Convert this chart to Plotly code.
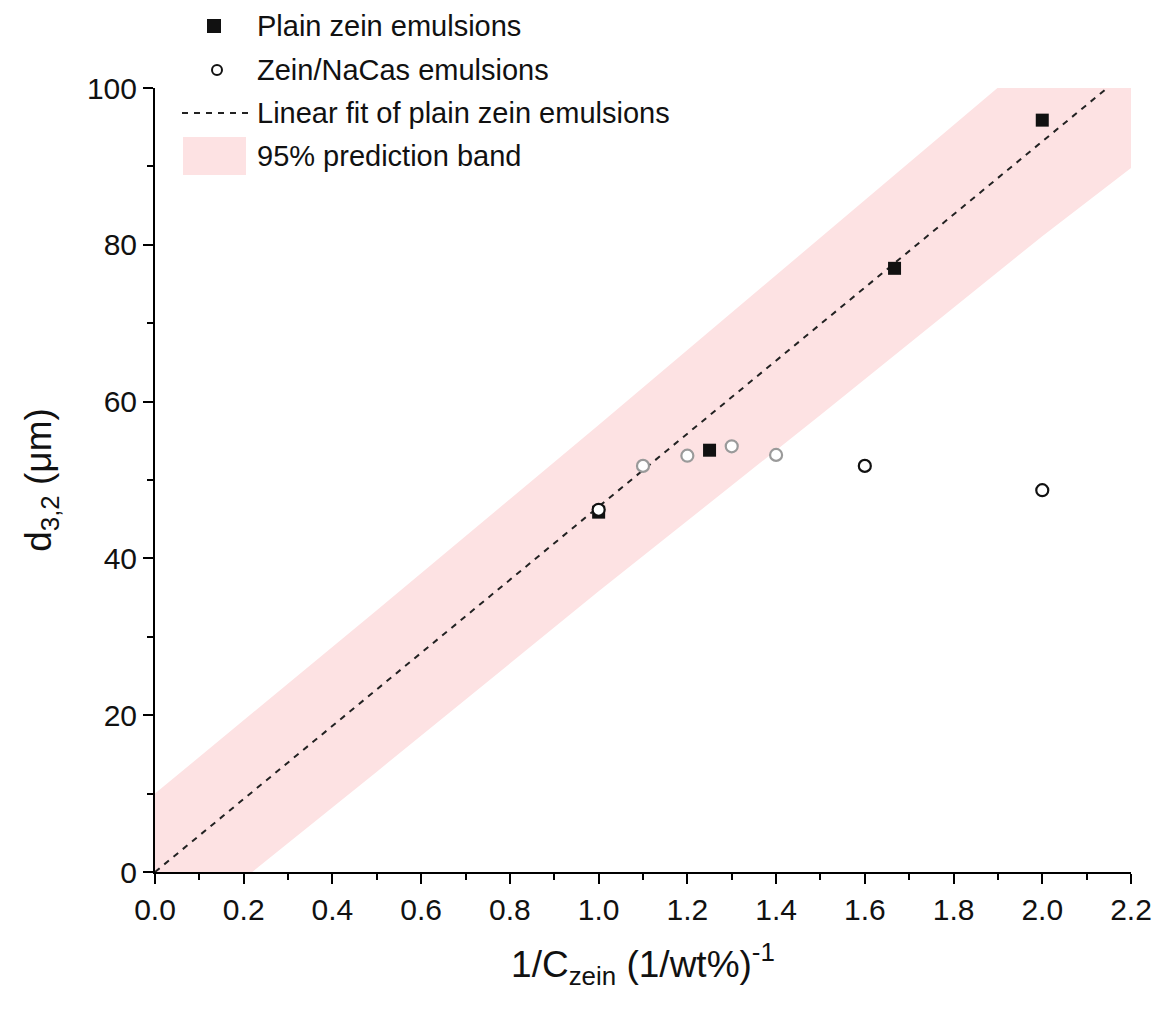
import plotly.graph_objects as go

# Data
plain_x = [1.0, 1.25, 1.667, 2.0]
plain_y = [45.9, 53.8, 77.0, 95.9]

nacas_x = [1.0, 1.1, 1.2, 1.3, 1.4, 1.6, 2.0]
nacas_y = [46.2, 51.8, 53.1, 54.3, 53.2, 51.8, 48.7]
nacas_edge = ["#111111", "#9a9a9a", "#9a9a9a", "#9a9a9a", "#9a9a9a", "#111111", "#111111"]

fit_x = [0.0, 2.2]
fit_y = [0.0, 102.5]

band_x = [0.0, 0.5, 1.0, 1.5, 2.0, 2.2]
band_upper = [10.0, 33.4, 57.0, 80.9, 104.7, 114.4]
band_lower = [-10.0, 12.8, 35.8, 58.3, 81.1, 89.8]

legend_labels = ["Plain zein emulsions", "Zein/NaCas emulsions",
                 "Linear fit of plain zein emulsions", "95% prediction band"]

FONT = "Arial, Liberation Sans, Helvetica, sans-serif"
BAND = "rgb(253,226,227)"
W, H = 1163, 1010
ML, MR, MT, MB = 155, 32, 88, 138
PW, PH = W - ML - MR, H - MT - MB

fig = go.Figure()

# prediction band as a closed polygon (upper edge forward, lower edge back)
poly_x = band_x + band_x[::-1]
poly_y = band_upper + band_lower[::-1]
fig.add_trace(go.Scatter(x=poly_x, y=poly_y, mode="lines",
                         line=dict(width=0, color=BAND), fill="toself",
                         fillcolor=BAND, name=legend_labels[3],
                         hoverinfo="skip", showlegend=False))
fig.add_trace(go.Scatter(x=fit_x, y=fit_y, mode="lines",
                         line=dict(color="#222222", width=2, dash="6px,6px"),
                         name=legend_labels[2], showlegend=False))
fig.add_trace(go.Scatter(x=plain_x, y=plain_y, mode="markers",
                         marker=dict(symbol="square", size=13, color="#111111",
                                     line=dict(width=0)),
                         name=legend_labels[0], showlegend=False))
fig.add_trace(go.Scatter(x=nacas_x, y=nacas_y, mode="markers",
                         marker=dict(symbol="circle", size=12, color="white",
                                     line=dict(width=2.2, color=nacas_edge)),
                         name=legend_labels[1], showlegend=False))


# ---- legend drawn in paper space (pixel helpers) ----
def px(x):
    return (x - ML) / PW


def py(y):
    return (H - MB - y) / PH


row_y = [26, 70, 113, 156]
text_x = 255
shapes = [
    dict(type="rect", xref="paper", yref="paper",
         x0=px(207), x1=px(221), y0=py(row_y[0] + 7), y1=py(row_y[0] - 7),
         fillcolor="#111111", line=dict(width=0)),
    dict(type="circle", xref="paper", yref="paper",
         x0=px(212), x1=px(222), y0=py(row_y[1] + 5), y1=py(row_y[1] - 5),
         fillcolor="white", line=dict(width=2, color="#111111")),
    dict(type="line", xref="paper", yref="paper",
         x0=px(182), x1=px(252), y0=py(row_y[2]), y1=py(row_y[2]),
         line=dict(width=2, color="#222222", dash="6px,6px")),
    dict(type="rect", xref="paper", yref="paper",
         x0=px(183), x1=px(246), y0=py(row_y[3] + 19), y1=py(row_y[3] - 19),
         fillcolor=BAND, line=dict(width=0), layer="below"),
]
annotations = [
    dict(xref="paper", yref="paper", x=px(text_x), y=py(yy), text=lab,
         showarrow=False, xanchor="left", yanchor="middle",
         font=dict(family=FONT, size=29, color="#111111"))
    for lab, yy in zip(legend_labels, row_y)
]

axis_common = dict(
    showline=True, linecolor="black", linewidth=2,
    ticks="outside", ticklen=10, tickwidth=2, tickcolor="black",
    showgrid=False, zeroline=False, mirror=False,
    tickfont=dict(family=FONT, size=30, color="#111111"),
)

fig.update_xaxes(range=[0, 2.2], dtick=0.2, tick0=0, tickformat=".1f",
                 minor=dict(dtick=0.1, ticks="outside", ticklen=6, tickwidth=2,
                            tickcolor="black"),
                 title=dict(text="1/C<sub>zein</sub> (1/wt%)<sup>-1</sup>",
                            font=dict(family=FONT, size=37, color="#111111"),
                            standoff=26),
                 **axis_common)
fig.update_yaxes(range=[0, 100], dtick=20, tick0=0,
                 minor=dict(dtick=10, ticks="outside", ticklen=6, tickwidth=2,
                            tickcolor="black"),
                 title=dict(text="d<sub>3,2</sub> (μm)",
                            font=dict(family=FONT, size=37, color="#111111"),
                            standoff=24),
                 **axis_common)

fig.update_layout(
    width=W, height=H,
    margin=dict(l=ML, r=MR, t=MT, b=MB, autoexpand=False),
    plot_bgcolor="white", paper_bgcolor="white",
    font=dict(family=FONT, color="#111111"),
    showlegend=False,
    shapes=shapes,
    annotations=annotations,
)

fig.write_html("out.html")
